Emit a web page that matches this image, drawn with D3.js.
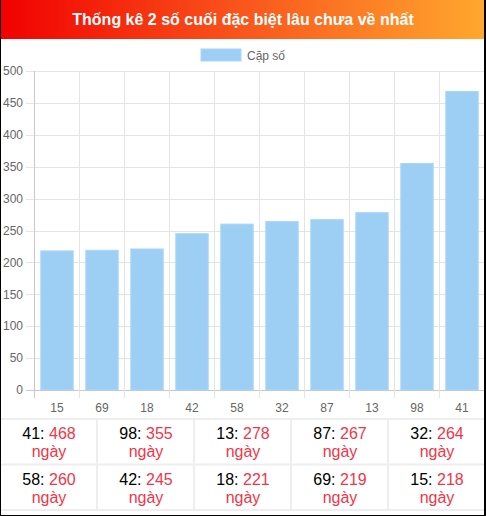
<!DOCTYPE html>
<html>
<head>
<meta charset="utf-8">
<script src="https://cdn.jsdelivr.net/npm/d3@7"></script>
<style>
  body { margin: 0; background: #fff; font-family: "Liberation Sans", Arial, sans-serif; }
  #wrap { position: relative; width: 486px; height: 516px; box-sizing: border-box;
          border-left: 1px solid #000; border-right: 2px solid #000; border-bottom: 1px solid #000; overflow: hidden; }
  svg { position: absolute; left: -1px; top: 0; }
</style>
</head>
<body>
<div id="wrap"><svg id="chart" width="486" height="516"></svg></div>
<script>
// chart data
let pairs = ["15", "69", "18", "42", "58", "32", "87", "13", "98", "41"]
let days = [218, 219, 221, 245, 260, 264, 267, 278, 355, 468]
let yTicks = [0, 50, 100, 150, 200, 250, 300, 350, 400, 450, 500]
let title = "Thống kê 2 số cuối đặc biệt lâu chưa về nhất"
let legendLabel = "Cặp số"

let svg = d3.select("#chart")

// title bar
let defs = svg.append("defs")
let grad = defs.append("linearGradient").attr("id", "hdr").attr("x1", "0").attr("x2", "1")
grad.append("stop").attr("offset", "0").attr("stop-color", "#f10000")
grad.append("stop").attr("offset", "0.5").attr("stop-color", "#f9561c")
grad.append("stop").attr("offset", "1").attr("stop-color", "#ffa82e")
svg.append("rect").attr("x", 0).attr("y", 0).attr("width", 486).attr("height", 39).attr("fill", "url(#hdr)")
svg.append("text").attr("x", 243).attr("y", 25).attr("text-anchor", "middle")
    .attr("fill", "#fff").attr("font-weight", "bold").attr("font-size", 16).text(title)

// legend
svg.append("rect").attr("x", 201).attr("y", 49).attr("width", 40).attr("height", 12)
    .attr("fill", "#9dcff5").attr("stroke", "#a9d6f7").attr("stroke-width", 1)
svg.append("text").attr("x", 247).attr("y", 59.5).attr("font-size", 12).attr("fill", "#666").text(legendLabel)

// scales
let xScale = d3.scaleBand().domain(pairs).range([34.5, 484.5])
let yScale = d3.scaleLinear().domain([0, 500]).range([390, 71])

let plot = svg.append("g")

// horizontal grid + y labels
plot.selectAll(".hgrid").data(yTicks).enter().append("line")
    .attr("class", "hgrid")
    .attr("x1", 26).attr("x2", 484.5)
    .attr("y1", d => Math.round(yScale(d)) + 0.5).attr("y2", d => Math.round(yScale(d)) + 0.5)
    .attr("stroke", d => d === 0 ? "#c8c8c8" : "#e4e4e4")
plot.selectAll(".ylab").data(yTicks).enter().append("text")
    .attr("x", 23).attr("y", d => yScale(d)).attr("dy", "0.35em")
    .attr("text-anchor", "end").attr("font-size", 12).attr("fill", "#666").text(d => d)

// vertical grid at band edges
let edges = pairs.map(p => xScale(p)).concat([xScale.range()[1]])
plot.selectAll(".vgrid").data(edges).enter().append("line")
    .attr("class", "vgrid")
    .attr("x1", d => Math.round(d - 0.5) + 0.5).attr("x2", d => Math.round(d - 0.5) + 0.5)
    .attr("y1", 71).attr("y2", 398)
    .attr("stroke", (d, i) => i === 0 ? "#c8c8c8" : "#e4e4e4")

// bars
let bw = xScale.bandwidth() * 0.72
plot.selectAll(".bar").data(pairs).enter().append("rect")
    .attr("class", "bar")
    .attr("x", (d, i) => xScale(d) + (xScale.bandwidth() - bw) / 2)
    .attr("y", (d, i) => yScale(days[i]))
    .attr("width", bw)
    .attr("height", (d, i) => yScale(0) - yScale(days[i]))
    .attr("fill", "#9dcff5").attr("stroke", "#a9d6f7").attr("stroke-width", 1)

// x labels
plot.selectAll(".xlab").data(pairs).enter().append("text")
    .attr("x", d => xScale(d) + xScale.bandwidth() / 2).attr("y", 411.5)
    .attr("text-anchor", "middle").attr("font-size", 12).attr("fill", "#666").text(d => d)

// table of longest absences, sorted descending
let order = d3.range(pairs.length).sort((a, b) => days[b] - days[a])
let colW = 97, rowTop = 419, rowH = 45.5
let table = svg.append("g")
table.selectAll(".hline").data([0, 1, 2]).enter().append("line")
    .attr("x1", 0).attr("x2", 485)
    .attr("y1", d => rowTop + d * rowH).attr("y2", d => rowTop + d * rowH)
    .attr("stroke", "#eee").attr("stroke-width", 2)
table.selectAll(".vline").data([1, 2, 3, 4, 5]).enter().append("line")
    .attr("x1", d => d * colW).attr("x2", d => d * colW)
    .attr("y1", rowTop).attr("y2", rowTop + 2 * rowH)
    .attr("stroke", "#eee").attr("stroke-width", 2)

let cells = table.selectAll(".cell").data(order).enter().append("g")
    .attr("transform", (d, i) => `translate(${(i % 5) * colW + colW / 2 + 0.5},${rowTop + Math.floor(i / 5) * rowH})`)
let l1 = cells.append("text").attr("y", 20).attr("text-anchor", "middle").attr("font-size", 16)
l1.append("tspan").attr("fill", "#000").text(d => pairs[d] + ": ")
l1.append("tspan").attr("fill", "#f0364a").text(d => days[d])
cells.append("text").attr("y", 38).attr("text-anchor", "middle").attr("font-size", 16)
    .attr("fill", "#f0364a").text("ngày")
</script>
</body>
</html>
